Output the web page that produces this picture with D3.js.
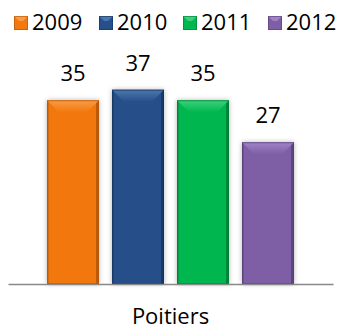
<!DOCTYPE html>
<html><head><meta charset="utf-8">
<script src="https://cdn.jsdelivr.net/npm/d3@7"></script>
<style>html,body{margin:0;padding:0;background:#fff;}svg{display:block;}</style>
</head><body>
<script>
const categories = ["Poitiers"];
const seriesNames = ["2009", "2010", "2011", "2012"];
const values = [35, 37, 35, 27];
const colors = ["#F2780F", "#27508A", "#00B74F", "#7E5EA6"];
const lightColors = ["#F99C45", "#4B77AE", "#3DD17C", "#A083C6"];
const darkColors = ["#B0540A", "#17345C", "#007A33", "#553E74"];

const W = 339, H = 329;
const svg = d3.select("body").append("svg").attr("width", W).attr("height", H);
const defs = svg.append("defs");
const f = defs.append("filter").attr("id", "sh").attr("x", "-30%").attr("y", "-30%").attr("width", "160%").attr("height", "160%");
f.append("feDropShadow").attr("dx", 0).attr("dy", 0).attr("stdDeviation", 2.5).attr("flood-color", "#000").attr("flood-opacity", 0.3);
seriesNames.forEach((s, i) => {
  const lgr = defs.append("linearGradient").attr("id", "bev" + i).attr("x1", 0).attr("y1", 0).attr("x2", 0).attr("y2", 1);
  lgr.append("stop").attr("offset", "0%").attr("stop-color", lightColors[i]);
  lgr.append("stop").attr("offset", "100%").attr("stop-color", colors[i]);
});

const font = "'Open Sans', sans-serif";

const x0 = d3.scaleBand().domain(categories).range([8, 333]).paddingOuter(0.125).paddingInner(0);
const x1 = d3.scaleBand().domain(seriesNames).range([0, x0.bandwidth()]).paddingInner(0.2).paddingOuter(0.1);
const y = d3.scaleLinear().domain([0, 40]).range([284, 74]);

const g = svg.append("g");
categories.forEach(cat => {
  seriesNames.forEach((s, i) => {
    const v = values[i];
    const bx = x0(cat) + x1(s), bw = x1.bandwidth();
    const top = y(v), bot = y(0), bh = bot - top;
    const bg = g.append("g");
    bg.append("rect").attr("x", bx).attr("y", top).attr("width", bw).attr("height", bh)
      .attr("fill", colors[i]).attr("filter", "url(#sh)");
    const bev = 12;
    bg.append("path").attr("d", `M${bx},${top}L${bx + bw},${top}L${bx + bw - bev},${top + bev}L${bx + bev},${top + bev}Z`)
      .attr("fill", "url(#bev" + i + ")");
    bg.append("path").attr("d", `M${bx + bw},${top}L${bx + bw},${bot}L${bx + bw - 3},${bot}L${bx + bw - 3},${top + 3}Z`)
      .attr("fill", darkColors[i]).attr("opacity", 0.8);
    bg.append("path").attr("d", `M${bx},${top}L${bx},${bot}L${bx + 2},${bot}L${bx + 2},${top + 2}Z`)
      .attr("fill", darkColors[i]).attr("opacity", 0.4);
    bg.append("rect").attr("x", bx + 0.5).attr("y", top + 0.5).attr("width", bw - 1).attr("height", bh - 1)
      .attr("fill", "none").attr("stroke", darkColors[i]).attr("stroke-width", 1).attr("opacity", 0.7);
    g.append("text").attr("x", bx + bw / 2).attr("y", top - 19).attr("text-anchor", "middle")
      .attr("font-family", font).attr("font-size", 22).attr("fill", "#000").text(v);
  });
});

const axis = svg.append("g").attr("transform", `translate(0,${y(0)})`)
  .call(d3.axisBottom(x0).tickSize(0).tickPadding(0));
axis.select(".domain").attr("stroke", "#898989").attr("stroke-width", 1.5);
axis.selectAll("text").attr("font-family", font).attr("font-size", 22).attr("fill", "#000")
  .attr("dy", null).attr("y", 40);

const legendX = [14, 99, 183, 268];
const lg = svg.append("g");
seriesNames.forEach((s, i) => {
  const lx = legendX[i];
  lg.append("rect").attr("x", lx).attr("y", 16).attr("width", 14).attr("height", 14).attr("fill", colors[i]);
  lg.append("path").attr("d", `M${lx},16L${lx + 14},16L${lx + 9},21L${lx + 5},21Z`).attr("fill", lightColors[i]);
  lg.append("rect").attr("x", lx + 0.5).attr("y", 16.5).attr("width", 13).attr("height", 13).attr("fill", "none").attr("stroke", darkColors[i]).attr("opacity", 0.6);
  lg.append("text").attr("x", lx + 18).attr("y", 29.5).attr("font-family", font).attr("font-size", 22).attr("fill", "#000").text(s);
});
</script>
</body></html>
